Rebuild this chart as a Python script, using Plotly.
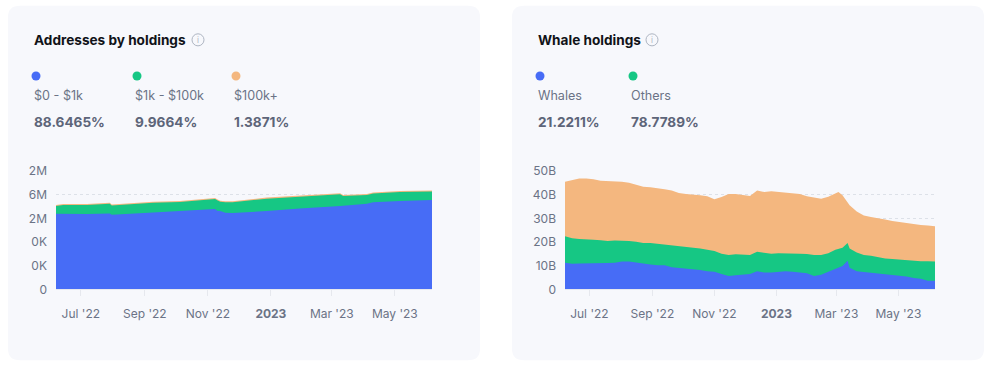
import plotly.graph_objects as go

W, H = 999, 391

# ---------------- Data: Addresses by holdings (millions of addresses, top edges of stacked areas)
addr_dates = ["2022-06-07", "2022-06-14", "2022-07-07", "2022-07-29", "2022-07-31", "2022-09-09",
              "2022-10-05", "2022-10-31", "2022-11-08", "2022-11-10", "2022-11-13", "2022-11-18",
              "2022-11-25", "2022-12-28", "2023-01-29", "2023-03-09", "2023-03-12", "2023-04-04",
              "2023-04-10", "2023-05-06", "2023-06-06"]
addr_small = [1.277, 1.275, 1.271, 1.282, 1.260, 1.299, 1.322, 1.350, 1.356, 1.328, 1.322, 1.294,
              1.288, 1.322, 1.367, 1.408, 1.410, 1.447, 1.469, 1.493, 1.510]
addr_mid = [1.408, 1.425, 1.425, 1.447, 1.418, 1.464, 1.475, 1.520, 1.526, 1.503, 1.481, 1.469,
            1.469, 1.532, 1.566, 1.605, 1.577, 1.594, 1.617, 1.645, 1.651]
addr_large = [1.425, 1.440, 1.440, 1.462, 1.434, 1.480, 1.492, 1.537, 1.543, 1.520, 1.498, 1.486,
              1.486, 1.549, 1.583, 1.622, 1.594, 1.611, 1.634, 1.662, 1.668]
addr_labels = ["$0 - $1k", "$1k - $100k", "$100k+"]
addr_pcts = ["88.6465%", "9.9664%", "1.3871%"]
addr_ytick_vals = [0, 0.4, 0.8, 1.2, 1.6, 2.0]
addr_ytick_text = ["0", "0K", "0K", "2M", "6M", "2M"]

# ---------------- Data: Whale holdings (billions, top edges of stacked areas)
wh_dates = ["2022-06-07", "2022-06-14", "2022-06-21", "2022-06-28", "2022-07-05", "2022-07-12",
            "2022-07-19", "2022-07-26", "2022-08-02", "2022-08-09", "2022-08-16", "2022-08-23",
            "2022-08-30", "2022-09-06", "2022-09-13", "2022-09-20", "2022-09-27", "2022-10-04",
            "2022-10-11", "2022-10-18", "2022-10-25", "2022-11-01", "2022-11-08", "2022-11-15",
            "2022-11-22", "2022-11-29", "2022-12-06", "2022-12-13", "2022-12-20", "2022-12-27",
            "2023-01-03", "2023-01-10", "2023-01-17", "2023-01-24", "2023-01-31", "2023-02-07",
            "2023-02-14", "2023-02-21", "2023-02-28", "2023-03-03", "2023-03-07", "2023-03-12",
            "2023-03-14", "2023-03-21", "2023-03-28", "2023-04-04", "2023-04-11", "2023-04-18",
            "2023-04-25", "2023-05-02", "2023-05-09", "2023-05-16", "2023-05-23", "2023-05-30",
            "2023-06-06"]
wh_total = [45.4, 46.1, 46.8, 46.8, 46.5, 45.8, 45.7, 45.7, 45.4, 45.0, 44.3, 43.3, 43.1, 42.8,
            42.3, 41.7, 40.7, 40.3, 40.1, 39.7, 39.3, 38.0, 39.0, 40.3, 40.3, 39.7, 39.4, 41.7,
            41.1, 41.4, 41.1, 41.1, 40.6, 40.3, 39.3, 38.7, 38.3, 39.1, 40.3, 41.1, 39.7, 36.5,
            35.5, 32.9, 31.2, 30.5, 30.1, 29.5, 28.9, 28.4, 27.9, 27.7, 27.2, 27.0, 26.7]
wh_others = [22.4, 21.6, 21.3, 21.3, 21.0, 20.7, 20.4, 20.6, 20.6, 20.4, 20.1, 19.6, 19.6, 19.3,
             19.0, 18.7, 18.2, 17.9, 17.7, 17.3, 16.7, 16.2, 15.0, 14.5, 14.8, 14.8, 14.5, 15.9,
             15.3, 15.0, 15.3, 15.3, 15.3, 15.0, 14.9, 14.5, 14.5, 15.3, 16.7, 17.0, 17.6, 19.6,
             17.3, 15.6, 14.5, 14.2, 13.6, 13.0, 12.8, 12.5, 12.2, 12.1, 11.9, 11.9, 11.8]
wh_whales = [11.3, 10.8, 10.9, 10.9, 10.9, 10.9, 11.1, 11.3, 11.8, 11.8, 11.3, 11.1, 10.5, 10.2,
             10.2, 9.4, 9.1, 8.8, 8.8, 8.2, 7.7, 7.4, 6.5, 5.7, 6.0, 6.2, 6.5, 7.7, 7.1, 7.1,
             7.4, 7.7, 7.4, 7.1, 6.8, 5.7, 6.2, 7.4, 8.5, 9.0, 9.9, 12.1, 9.1, 7.7, 7.4, 6.8,
             6.5, 6.2, 6.0, 5.7, 5.4, 4.8, 4.5, 3.7, 3.7]
wh_labels = ["Whales", "Others"]
wh_pcts = ["21.2211%", "78.7789%"]
wh_ytick_vals = [0, 10, 20, 30, 40, 50]
wh_ytick_text = ["0", "10B", "20B", "30B", "40B", "50B"]

x_tick_vals = ["2022-07-01", "2022-09-01", "2022-11-01", "2023-01-01", "2023-03-01", "2023-05-01"]
x_tick_text = ["Jul '22", "Sep '22", "Nov '22", "<b>2023</b>", "Mar '23", "May '23"]

BLUE, GREEN, ORANGE = "#476cf6", "#16c784", "#f4b77f"
CARD = "#f7f8fc"
FONT = "Inter"

# vertical mapping correction observed for the capture pipeline
VA, VS = 8.3, 0.9575


def px(x):
    return x / W


def py(y):
    return 1 - ((y - VA) / VS) / H


fig = go.Figure()

for vals, col in [(addr_large, ORANGE), (addr_mid, GREEN), (addr_small, BLUE)]:
    fig.add_trace(go.Scatter(x=addr_dates, y=vals, mode="lines", line=dict(width=0, color=col),
                             fill="tozeroy", fillcolor=col, xaxis="x", yaxis="y",
                             showlegend=False, hoverinfo="skip"))
for vals, col in [(wh_total, ORANGE), (wh_others, GREEN), (wh_whales, BLUE)]:
    fig.add_trace(go.Scatter(x=wh_dates, y=vals, mode="lines", line=dict(width=0, color=col),
                             fill="tozeroy", fillcolor=col, xaxis="x2", yaxis="y2",
                             showlegend=False, hoverinfo="skip"))

ydom = [py(288.5), py(170.5)]
xcommon = dict(type="date", tickvals=x_tick_vals, ticktext=x_tick_text, showgrid=False,
               showline=True, linecolor="#e6e8ee", linewidth=1, ticks="outside", ticklen=6,
               tickcolor="#e6e8ee", ticklabelstandoff=7,
               tickfont=dict(family=FONT, size=12, color="#6b7386"), zeroline=False, fixedrange=True)
ycommon = dict(showgrid=True, gridcolor="#dde1e8", griddash="dot", gridwidth=1, zeroline=False,
               showline=False, ticks="", ticklabelstandoff=8,
               tickfont=dict(family=FONT, size=12, color="#6b7386"), fixedrange=True, domain=ydom)

fig.update_layout(
    width=W, height=H, autosize=False,
    margin=dict(l=0, r=0, t=0, b=0, pad=0),
    paper_bgcolor="white", plot_bgcolor="rgba(0,0,0,0)",
    xaxis=dict(xcommon, domain=[px(56), px(432)], range=["2022-06-07", "2023-06-06"], anchor="y"),
    yaxis=dict(ycommon, range=[0, 2.0], tickvals=addr_ytick_vals, ticktext=addr_ytick_text, anchor="x"),
    xaxis2=dict(xcommon, domain=[px(565), px(935)], range=["2022-06-07", "2023-06-06"], anchor="y2"),
    yaxis2=dict(ycommon, range=[0, 50], tickvals=wh_ytick_vals, ticktext=wh_ytick_text, anchor="x2"),
)


def rrect(x0, y0, x1, y1, r):
    X0, X1 = px(x0), px(x1)
    Y0, Y1 = py(y0), py(y1)
    rx, ry = r / W, r / H
    return (f"M {X0+rx},{Y0} L {X1-rx},{Y0} Q {X1},{Y0} {X1},{Y0-ry} "
            f"L {X1},{Y1+ry} Q {X1},{Y1} {X1-rx},{Y1} L {X0+rx},{Y1} Q {X0},{Y1} {X0},{Y1+ry} "
            f"L {X0},{Y0-ry} Q {X0},{Y0} {X0+rx},{Y0} Z")


shapes = []
for cx in (8, 512):
    shapes.append(dict(type="path", path=rrect(cx, 6, cx + 472, 359, 12), xref="paper", yref="paper",
                       fillcolor=CARD, line=dict(width=0), layer="below"))

annotations = []


def text(x, y, s, size, color, bold=False, xanchor="left"):
    annotations.append(dict(x=px(x), y=py(y), xref="paper", yref="paper", text=f"<b>{s}</b>" if bold else s,
                            showarrow=False, xanchor=xanchor, yanchor="middle",
                            font=dict(family=FONT, size=size, color=color)))


def info_icon(x, y):
    r = 6
    shapes.append(dict(type="circle", xref="paper", yref="paper", x0=px(x - r), x1=px(x + r),
                       y0=py(y + r), y1=py(y - r), line=dict(color="#aeb5c2", width=1), fillcolor="rgba(0,0,0,0)"))
    text(x, y + 0.5, "i", 8, "#aeb5c2", xanchor="center")


def dot(x, y, col):
    r = 4.5
    shapes.append(dict(type="circle", xref="paper", yref="paper", x0=px(x - r), x1=px(x + r),
                       y0=py(y + r), y1=py(y - r), line=dict(width=0), fillcolor=col))


text(32, 40, "Addresses by holdings", 13.6, "#111318", bold=True)
info_icon(198, 40)
for xx, lab, pct, col in zip([33, 134, 233], addr_labels, addr_pcts, [BLUE, GREEN, ORANGE]):
    dot(xx + 3, 76, col)
    text(xx - 1, 95, lab, 12.6, "#6b7386")
    text(xx - 1, 122, pct, 13.6, "#5d6579", bold=True)

text(536, 40, "Whale holdings", 13.6, "#111318", bold=True)
info_icon(652, 40)
for xx, lab, pct, col in zip([537, 630], wh_labels, wh_pcts, [BLUE, GREEN]):
    dot(xx + 3, 76, col)
    text(xx - 1, 95, lab, 12.6, "#6b7386")
    text(xx - 1, 122, pct, 13.6, "#5d6579", bold=True)

fig.update_layout(shapes=shapes, annotations=annotations)
fig.write_html("out.html", config={"responsive": False, "displayModeBar": False},
               post_script="document.body.style.margin='0';document.body.style.overflow='hidden';")
